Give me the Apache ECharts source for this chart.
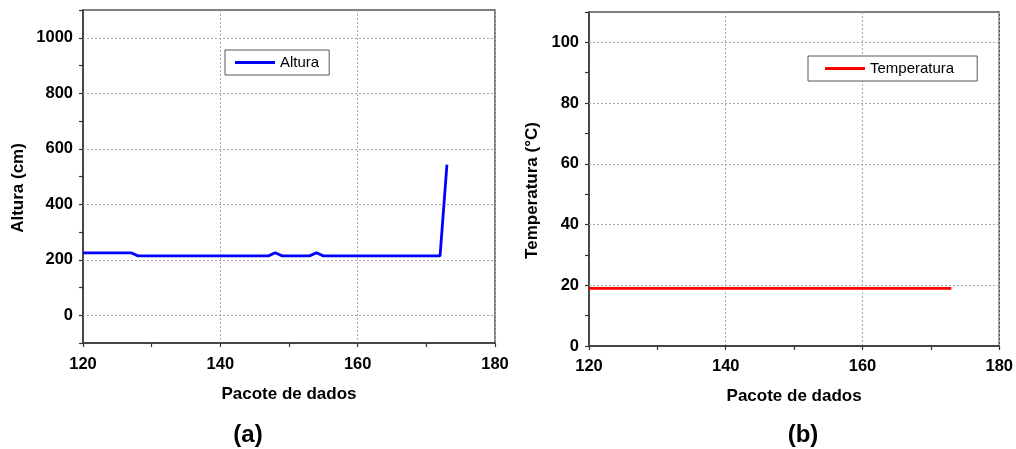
<!DOCTYPE html>
<html><head><meta charset="utf-8">
<script src="https://cdn.jsdelivr.net/npm/echarts@6/dist/echarts.min.js"></script>
<style>html,body{margin:0;padding:0;background:#fff}#c{width:1016px;height:449px}</style>
</head><body><div id="c"></div>
<script>
const packets = [120,121,122,123,124,125,126,127,128,129,130,131,132,133,134,135,136,137,138,139,140,141,142,143,144,145,146,147,148,149,150,151,152,153,154,155,156,157,158,159,160,161,162,163,164,165,166,167,168,169,170,171,172,173];
const altura = [225,225,225,225,225,225,225,225,214,214,214,214,214,214,214,214,214,214,214,214,214,214,214,214,214,214,214,214,225,214,214,214,214,214,225,214,214,214,214,214,214,214,214,214,214,214,214,214,214,214,214,214,214,543];
const temperatura = [19,19,19,19,19,19,19,19,19,19,19,19,19,19,19,19,19,19,19,19,19,19,19,19,19,19,19,19,19,19,19,19,19,19,19,19,19,19,19,19,19,19,19,19,19,19,19,19,19,19,19,19,19,19];
const alturaTicks = [0,200,400,600,800,1000];
const tempTicks = [0,20,40,60,80,100];
const xTicks = [120,140,160,180];

const FONT = 'Liberation Sans';
const pair = (xs, ys) => xs.map((x, i) => [x, ys[i]]);
const gridLine = {type:[2,2], color:'#a8a8a8', width:1};

function xAxisFor(gi, nameGap, margin){
  return {
    type:'value', gridIndex:gi, min:xTicks[0], max:xTicks[xTicks.length-1], interval:20,
    name:'Pacote de dados', nameLocation:'middle', nameGap:nameGap,
    nameTextStyle:{fontFamily:FONT, fontWeight:'bold', fontSize:17, color:'#000'},
    axisLine:{show:true, onZero:false, lineStyle:{color:'#333', width:1.5}},
    axisTick:{show:true, inside:false, length:4, lineStyle:{color:'#333', width:1.2}},
    minorTick:{show:true, splitNumber:2, length:4, lineStyle:{color:'#333', width:1.2}},
    axisLabel:{margin:margin, fontFamily:FONT, fontWeight:'bold', fontSize:16.5, color:'#000',
      formatter:v => xTicks.includes(v) ? String(v) : ''},
    splitLine:{show:true, lineStyle:gridLine}
  };
}
function yAxisFor(gi, name, min, max, step, ticks, nameGap){
  return {
    type:'value', gridIndex:gi, min:min, max:max, interval:step,
    name:name, nameLocation:'middle', nameGap:nameGap,
    nameTextStyle:{fontFamily:FONT, fontWeight:'bold', fontSize:17, color:'#000', padding:[0,23,0,0]},
    axisLine:{show:true, onZero:false, lineStyle:{color:'#333', width:1.5}},
    axisTick:{show:true, inside:false, length:4, lineStyle:{color:'#333', width:1.2}},
    axisLabel:{margin:10, fontFamily:FONT, fontWeight:'bold', fontSize:16.5, color:'#000',
      formatter:v => ticks.includes(v) ? String(v) : ''},
    splitLine:{show:false}
  };
}
function legendFor(name, left, top, pad){
  return {
    data:[name], left:left, top:top, orient:'horizontal',
    icon:'rect', itemWidth:40, itemHeight:3, itemGap:5,
    padding:pad, borderColor:'#555', borderWidth:1, backgroundColor:'#fff',
    textStyle:{fontFamily:FONT, fontSize:15, color:'#000', lineHeight:15, padding:[0,0,0,0]},
    selectedMode:false
  };
}

const chart = echarts.init(document.getElementById('c'), null, {renderer:'canvas'});
chart.setOption({
  animation:false,
  backgroundColor:'#fff',
  grid:[
    {left:83, top:10, width:412, height:333, show:true, borderColor:'#555', borderWidth:1.5, backgroundColor:'transparent', containLabel:false},
    {left:589, top:12, width:411, height:334, show:true, borderColor:'#555', borderWidth:1.5, backgroundColor:'transparent', containLabel:false}
  ],
  xAxis:[ xAxisFor(0, 43, 13), xAxisFor(1, 42, 12) ],
  yAxis:[
    yAxisFor(0, 'Altura (cm)', -100, 1100, 100, alturaTicks, 56),
    yAxisFor(1, 'Temperatura (°C)', 0, 110, 10, tempTicks, 48)
  ],
  legend:[
    legendFor('Altura', 225, 50, [5,10,5,10]),
    legendFor('Temperatura', 808, 56, [5,23,5,17])
  ],
  series:[
    {name:'Altura', type:'line', xAxisIndex:0, yAxisIndex:0, data:pair(packets, altura),
     showSymbol:false, symbol:'none', color:'#0000ff', lineStyle:{color:'#0000ff', width:2.8}, z:3,
     markLine:{silent:true, symbol:'none', label:{show:false}, lineStyle:gridLine, z:1,
       emphasis:{disabled:true}, animation:false,
       data:alturaTicks.map(v => ({yAxis:v}))}},
    {name:'Temperatura', type:'line', xAxisIndex:1, yAxisIndex:1, data:pair(packets, temperatura),
     showSymbol:false, symbol:'none', color:'#ff0000', lineStyle:{color:'#ff0000', width:2.8}, z:3,
     markLine:{silent:true, symbol:'none', label:{show:false}, lineStyle:gridLine, z:1,
       emphasis:{disabled:true}, animation:false,
       data:tempTicks.filter(v => v > 0).map(v => ({yAxis:v}))}}
  ],
  graphic:[
    {type:'text', x:248, y:435, style:{text:'(a)', fontFamily:FONT, fontWeight:'bold', fontSize:24, fill:'#000', align:'center', verticalAlign:'middle'}},
    {type:'text', x:803, y:435, style:{text:'(b)', fontFamily:FONT, fontWeight:'bold', fontSize:24, fill:'#000', align:'center', verticalAlign:'middle'}}
  ]
});
</script></body></html>
